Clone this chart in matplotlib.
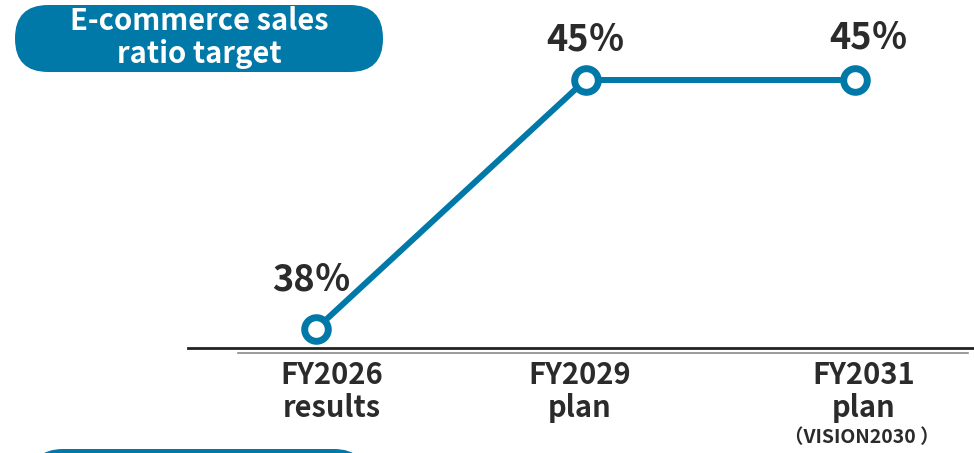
import numpy as np
import matplotlib.pyplot as plt
from matplotlib.patches import FancyBboxPatch
from matplotlib.lines import Line2D

plt.rcParams['font.family'] = ['Noto Sans CJK JP', 'DejaVu Sans']

categories = ['FY2026\nresults', 'FY2029\nplan', 'FY2031\nplan']
sub_labels = ['', '', '（VISION2030 ）']
ratio = [38, 45, 45]
value_labels = ['38％', '45％', '45％']
title = 'E-commerce sales\nratio target'

blue = '#0079A8'
dark = '#2b2b2b'
W, H = 974, 453

fig = plt.figure(figsize=(W / 100, H / 100), dpi=100)
ax = fig.add_axes([0, 0, 1, 1])
ax.axis('off')
x = np.arange(len(ratio))
ax.set_xlim(-316 / 269.5, (W - 316) / 269.5)
ax.set_ylim(38 - (H - 329) / 35.57, 45 + 80 / 35.57)

def fx(px):
    return px / W

def fy(py):
    return 1 - py / H

# baselines
fig.add_artist(Line2D([fx(188), fx(974)], [fy(348), fy(348)], color='#222222', lw=2.0))
fig.add_artist(Line2D([fx(238), fx(968)], [fy(352.5), fy(352.5)], color='#8a8a8a', lw=1.2))

ax.plot(x, ratio, color=blue, lw=4.3, marker='o', ms=17, mfc='white',
        mec=blue, mew=5, zorder=3, solid_capstyle='butt')

# value labels (offsets in points)
val_off = [(-3.6, 35.5), (0, 29), (10, 30.5)]
for i, (v, lab) in enumerate(zip(ratio, value_labels)):
    ax.annotate(lab, (x[i], v), xytext=val_off[i], textcoords='offset points',
                ha='center', va='center', fontsize=26, fontweight='bold', color=dark)

# category labels
base = 38 - (348 - 329) / 35.57
cat_dx = [16, -6, 9]
for i, cat in enumerate(categories):
    for j, line in enumerate(cat.split('\n')):
        ax.annotate(line, (x[i], base), xytext=(cat_dx[i] * 0.72, -(27 + j * 33) * 0.72),
                    textcoords='offset points', ha='center', va='center',
                    fontsize=21, fontweight='bold', color=dark)
    if sub_labels[i]:
        ax.annotate(sub_labels[i], (x[i], base), xytext=((cat_dx[i] - 2) * 0.72, -90 * 0.72),
                    textcoords='offset points', ha='center', va='center',
                    fontsize=14, fontweight='bold', color=dark)

# title pill
pill = FancyBboxPatch((fx(15), fy(72)), fx(368), 67 / H,
                      boxstyle='round,pad=0,rounding_size=0.034', transform=fig.transFigure,
                      facecolor=blue, edgecolor='none', mutation_aspect=W / H)
fig.add_artist(pill)
fig.text(fx(199), fy(21), title.split('\n')[0], ha='center', va='center',
         fontsize=21, fontweight='bold', color='white')
fig.text(fx(199), fy(54), title.split('\n')[1], ha='center', va='center',
         fontsize=21, fontweight='bold', color='white')

# bottom pill (cut off)
pill2 = FancyBboxPatch((fx(30), fy(515)), fx(337), 66 / H,
                       boxstyle='round,pad=0,rounding_size=0.034', transform=fig.transFigure,
                       facecolor=blue, edgecolor='none', mutation_aspect=W / H)
fig.add_artist(pill2)

fig.savefig('out.png', dpi=100)
